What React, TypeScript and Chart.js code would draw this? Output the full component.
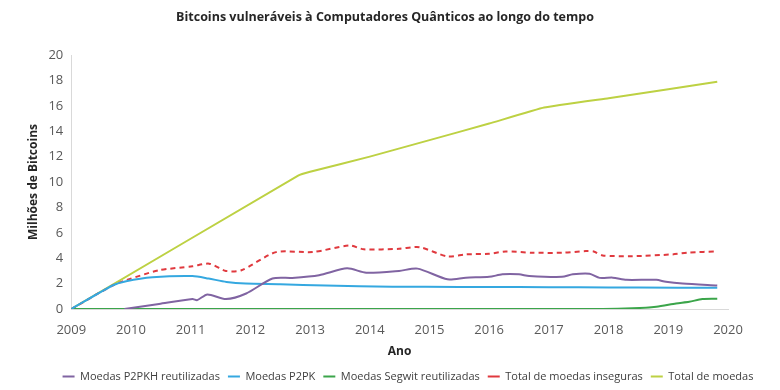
import React, { useEffect, useRef } from "react";
import { Chart, registerables } from "chart.js";

Chart.register(...registerables);

const TITLE = "Bitcoins vulneráveis à Computadores Quânticos ao longo do tempo";
const X_TITLE = "Ano";
const Y_TITLE = "Milhões de Bitcoins";

const LABELS = [
  "Moedas P2PKH reutilizadas",
  "Moedas P2PK",
  "Moedas Segwit reutilizadas",
  "Total de moedas inseguras",
  "Total de moedas",
];

// Moedas P2PKH reutilizadas
const p2pkhYears = [2009.89, 2010.47, 2011.03, 2011.11, 2011.28, 2011.59, 2011.93, 2012.37, 2012.7, 2013.15, 2013.62, 2013.94, 2014.49, 2014.8, 2015.3, 2015.61, 2016.0, 2016.22, 2016.5, 2016.67, 2017.22, 2017.4, 2017.68, 2017.85, 2018.07, 2018.3, 2018.8, 2018.96, 2019.24, 2019.82];
const p2pkhValues = [0, 0.4, 0.78, 0.7, 1.15, 0.78, 1.22, 2.4, 2.45, 2.66, 3.2, 2.86, 3.0, 3.18, 2.34, 2.47, 2.53, 2.73, 2.73, 2.6, 2.53, 2.73, 2.78, 2.45, 2.47, 2.3, 2.3, 2.14, 2.0, 1.85];

// Moedas P2PK
const p2pkYears = [2009, 2009.7, 2009.92, 2010.36, 2011.03, 2011.3, 2011.6, 2011.92, 2012.5, 2013.26, 2014.38, 2015.5, 2016.5, 2017.5, 2018.5, 2019.82];
const p2pkValues = [0, 1.87, 2.19, 2.5, 2.6, 2.4, 2.13, 2.0, 1.95, 1.85, 1.76, 1.74, 1.73, 1.71, 1.69, 1.67];

// Moedas Segwit reutilizadas
const segwitYears = [2009, 2017.9, 2018.4, 2018.8, 2019.13, 2019.35, 2019.57, 2019.82];
const segwitValues = [0, 0, 0.05, 0.18, 0.44, 0.57, 0.78, 0.8];

// Total de moedas inseguras
const insecureYears = [2009, 2009.7, 2009.92, 2010.47, 2011.03, 2011.31, 2011.59, 2011.85, 2012.43, 2013.04, 2013.66, 2013.9, 2014.49, 2014.83, 2015.3, 2015.61, 2016.0, 2016.28, 2016.73, 2017.23, 2017.62, 2017.75, 2017.9, 2018.4, 2019.07, 2019.35, 2019.82];
const insecureValues = [0, 1.87, 2.27, 3.05, 3.36, 3.57, 3.0, 3.05, 4.48, 4.48, 5.0, 4.7, 4.74, 4.87, 4.14, 4.3, 4.35, 4.53, 4.43, 4.43, 4.56, 4.53, 4.22, 4.16, 4.3, 4.45, 4.53];

// Total de moedas
const totalYears = [2009, 2012.8, 2013, 2014, 2015, 2016, 2016.92, 2018, 2019, 2019.82];
const totalValues = [0, 10.5, 10.8, 12.0, 13.3, 14.6, 15.86, 16.6, 17.3, 17.9];

const X_MIN = 2009;
const X_MAX = 2020;
const Y_MIN = 0;
const Y_MAX = 20;
const Y_STEP = 2;

const COLORS = ["#8064A2", "#35A8E0", "#3BA54A", "#E0393E", "#BDD143"];

const zip = (xs: number[], ys: number[]) => xs.map((x, i) => ({ x, y: ys[i] }));

const FONT = "'Open Sans', 'Noto Sans', sans-serif";

const blockShift = {
  id: "blockShift",
  afterLayout(chart: any) {
    const l = chart.legend;
    if (l) {
      l.left += 34;
      l.right += 34;
      l.top += 2;
      l.bottom += 2;
    }
    const t = chart.titleBlock;
    if (t) {
      t.left += 11;
      t.right += 11;
    }
  },
};

export default function App() {
  const ref = useRef<HTMLCanvasElement | null>(null);

  useEffect(() => {
    if (!ref.current) return;
    const series = [
      zip(p2pkhYears, p2pkhValues),
      zip(p2pkYears, p2pkValues),
      zip(segwitYears, segwitValues),
      zip(insecureYears, insecureValues),
      zip(totalYears, totalValues),
    ];
    const chart = new Chart(ref.current, {
      type: "line",
      data: {
        datasets: series.map((d, i) => ({
          label: LABELS[i],
          data: d,
          borderColor: COLORS[i],
          backgroundColor: COLORS[i],
          borderWidth: 2,
          borderDash: i === 3 ? [5, 4] : [],
          pointRadius: 0,
          tension: i === 4 ? 0.1 : 0.25,
          fill: false,
        })),
      },
      plugins: [blockShift],
      options: {
        animation: false,
        responsive: true,
        maintainAspectRatio: false,
        layout: { padding: { left: 20, right: 52, top: 0, bottom: 0 } },
        plugins: {
          title: {
            display: true,
            text: TITLE,
            color: "#262626",
            font: { family: FONT, size: 12.5, weight: "bold" },
            padding: { top: 10, bottom: 30 },
          },
          legend: {
            position: "bottom",
            labels: {
              usePointStyle: true,
              pointStyle: "line",
              pointStyleWidth: 12,
              boxHeight: 6,
              color: "#404040",
              font: { family: FONT, size: 11 },
              padding: 8,
            },
          },
          tooltip: { enabled: false },
        },
        scales: {
          x: {
            type: "linear",
            min: X_MIN,
            max: X_MAX,
            afterFit: (s: any) => {
              s.height = 52;
            },
            grid: { display: false, drawTicks: false },
            border: { display: true, color: "#D9D9D9", width: 1 },
            ticks: {
              stepSize: 1,
              padding: 13,
              color: "#595959",
              font: { family: FONT, size: 13 },
              callback: (v: any) => String(v),
              maxRotation: 0,
            },
            title: {
              display: true,
              text: X_TITLE,
              color: "#262626",
              font: { family: FONT, size: 12, weight: "bold" },
              padding: { top: 4, bottom: 2 },
            },
          },
          y: {
            min: Y_MIN,
            max: Y_MAX,
            grid: { display: false, drawTicks: false },
            border: { display: true, color: "#D9D9D9", width: 1 },
            ticks: {
              stepSize: Y_STEP,
              padding: 8,
              color: "#595959",
              font: { family: FONT, size: 13 },
            },
            title: {
              display: true,
              text: Y_TITLE,
              color: "#262626",
              font: { family: FONT, size: 12, weight: "bold" },
              padding: { top: 6, bottom: 0 },
            },
          },
        },
      },
    });
    return () => chart.destroy();
  }, []);

  return (
    <div style={{ position: "absolute", left: 0, top: 0, width: 780, height: 390, background: "#fff" }}>
      <canvas ref={ref} />
    </div>
  );
}
